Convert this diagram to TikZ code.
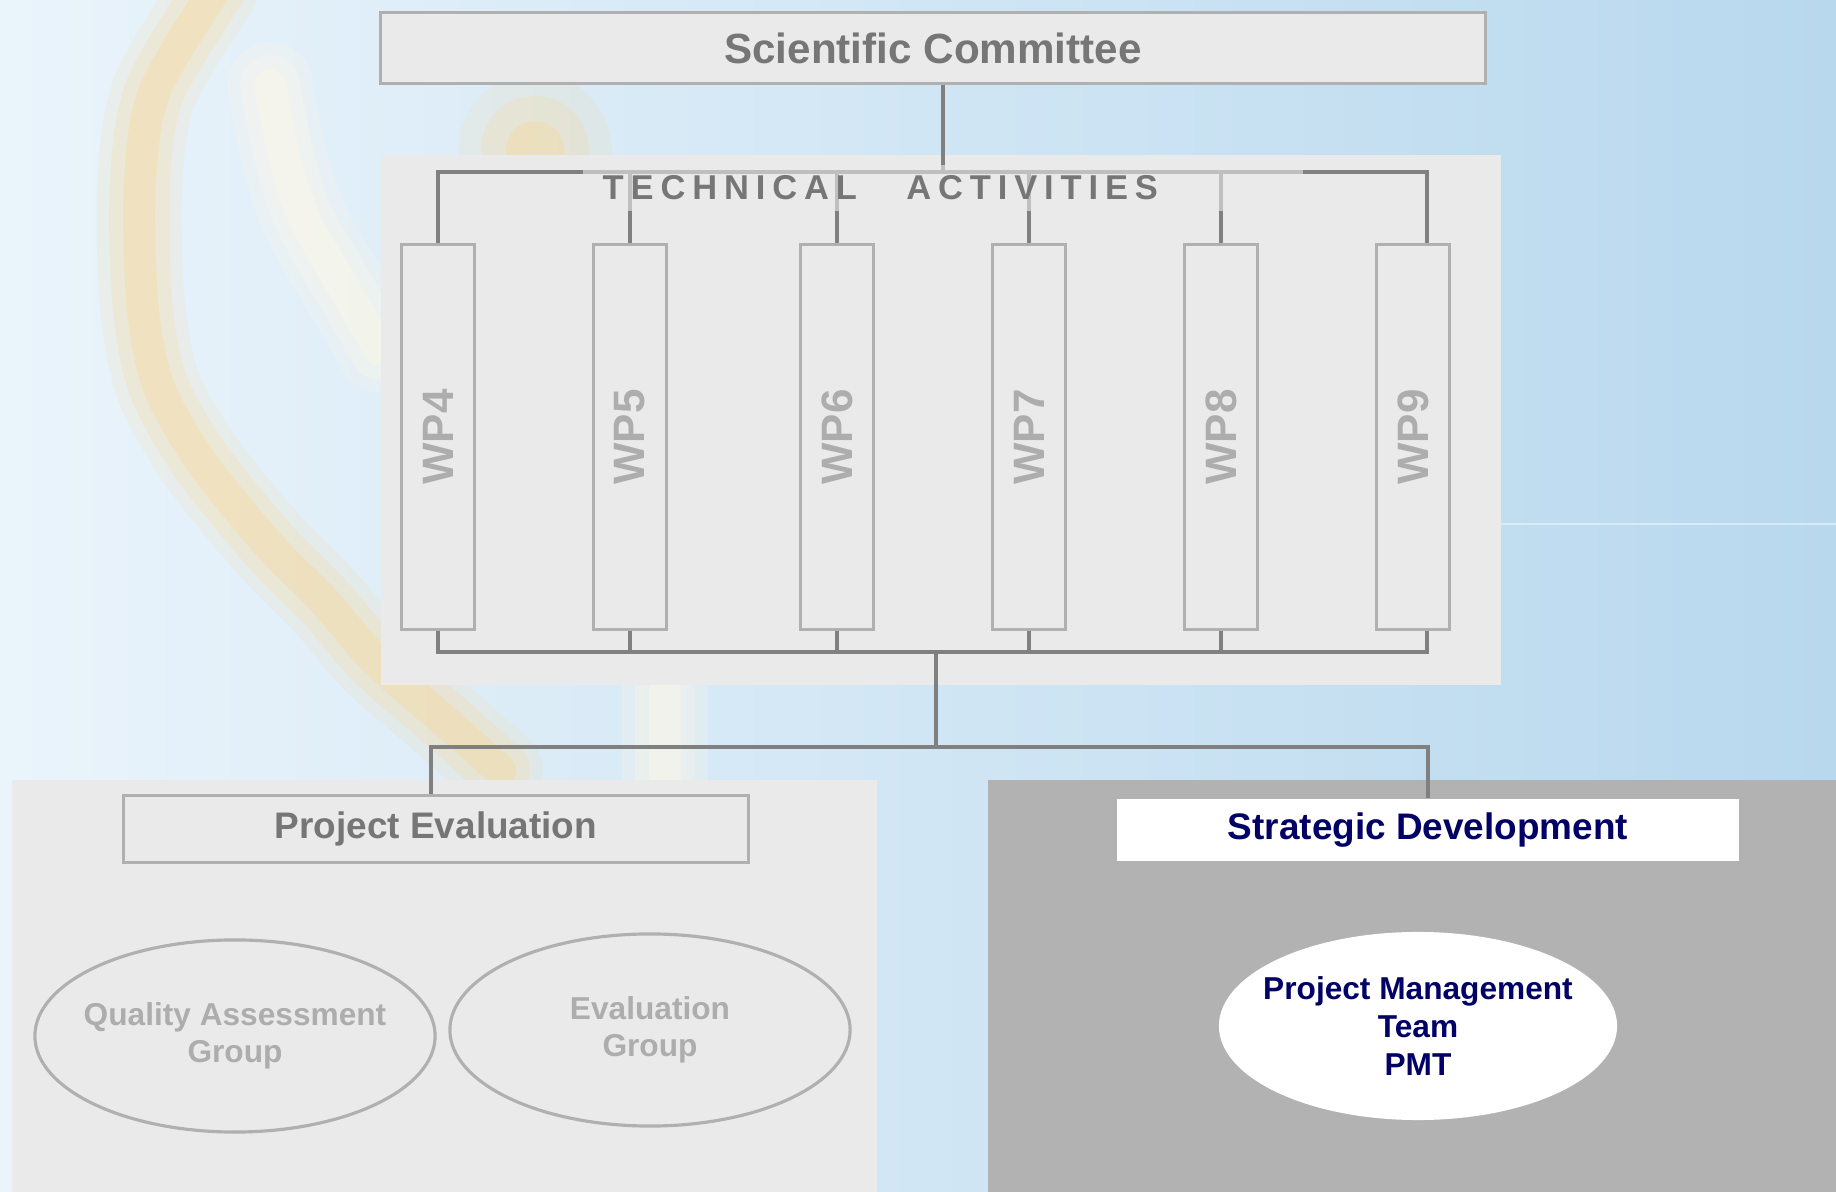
\documentclass[tikz,border=0pt]{standalone}
\usepackage{fontspec}
\setmainfont{Liberation Sans}
\newfontfamily\spacedfont[LetterSpace=20]{Liberation Sans}
\usepackage{tikz}
\usetikzlibrary{
	shapes.geometric
}

\definecolor{bgleft}{HTML}{EAF4FB}
\definecolor{bgmid}{HTML}{C6E1F3}
\definecolor{bgright}{HTML}{B8D8EE}
\definecolor{panel}{HTML}{EAEAEA}
\definecolor{darkpanel}{HTML}{B2B2B2}
\definecolor{boxline}{HTML}{B0B0B0}
\definecolor{linkgray}{HTML}{808080}
\definecolor{titlegray}{HTML}{767676}
\definecolor{palegray}{HTML}{ADADAD}
\definecolor{navy}{HTML}{000066}
\definecolor{swoosh}{HTML}{FFD27F}
\definecolor{cream}{HTML}{FFF8E6}

\tikzset{
	box/.style={draw=boxline, line width=0.9pt, fill=panel, inner sep=0pt},
	wpbox/.style={box, minimum width=0.73cm, minimum height=3.84cm},
	wplabel/.style={rotate=90, text=palegray, font=\fontsize{12.5}{14}\selectfont\bfseries},
	group/.style={ellipse, draw=boxline, line width=0.9pt, inner sep=0pt,
		minimum width=4cm, minimum height=1.92cm},
	grouplabel/.style={align=center, text=palegray, font=\fontsize{9}{10.7}\selectfont\bfseries},
	link/.style={draw=linkgray, line width=1pt}
}

\begin{document}
\begin{tikzpicture}[x=0.01cm, y=-0.01cm]
	\useasboundingbox (0,0) rectangle (1836,1192);
	\shade[left color=bgleft, middle color=bgmid, right color=bgright]
		(0,0) rectangle (1836,1192);
	\draw[white, opacity=0.45, line width=0.6pt] (1501,524) -- (1836,524);

	% background swoosh
	\foreach \w/\o in {0.85cm/0.12, 0.6cm/0.18, 0.32cm/0.26}{
		\draw[swoosh, line width=\w, opacity=\o, line cap=round]
			plot[smooth] coordinates {(215,-10) (155,90) (140,180) (142,300) (158,385)
				(200,460) (268,544) (325,602) (375,660) (440,717) (500,770)};
		\draw[cream, line width=\w, opacity=\o+0.1, line cap=round]
			plot[smooth] coordinates {(270,85) (285,160) (305,220) (345,290) (380,350)};
		\draw[cream, line width=\w, opacity=\o+0.1, line cap=round]
			(665,690) -- (665,780);
		\fill[swoosh, opacity=\o] (535,150) circle[radius=\w*0.9];
	}

	\node[box, minimum width=11.04cm, minimum height=0.71cm, text=titlegray,
		font=\fontsize{12}{14}\selectfont\bfseries] (sc) at (933,48) {Scientific Committee};

	\fill[panel] (381,155) rectangle (1501,685);

	\foreach \n/\x in {4/438, 5/630, 6/837, 7/1029, 8/1221, 9/1413}{
		\node[wpbox] (wp\n) at (\x,437) {};
		\node[wplabel] at (wp\n) {WP\n};
	}

	\coordinate (top) at (943,172);
	\draw[link] (top |- sc.south) -- (top);
	\draw[link] (wp4.north) -- (wp4.north |- top) -- ([xshift=0.14cm]wp9.north |- top)
		-- ([xshift=0.14cm]wp9.north);
	\foreach \n in {5,...,8}
		\draw[link] (wp\n.north) -- (wp\n.north |- top);

	\node[fill=panel, fill opacity=0.6, text opacity=1, anchor=north west,
		text width=6.8cm, inner xsep=0.2cm, inner ysep=0.11cm, align=left,
		text=titlegray, font=\spacedfont\fontsize{9.8}{11}\selectfont\bfseries]
		(tech) at (582,164) {TECHNICAL\hspace{1.1em} ACTIVITIES};

	\coordinate (hub) at (936,652);
	\draw[link] (wp4.south) -- (wp4.south |- hub) -- ([xshift=0.14cm]wp9.south |- hub)
		-- ([xshift=0.14cm]wp9.south);
	\foreach \n in {5,...,8}
		\draw[link] (wp\n.south) -- (wp\n.south |- hub);

	\fill[panel] (12,780) rectangle (877,1192);
	\fill[darkpanel] (988,780) rectangle (1836,1192);

	\node[box, minimum width=6.24cm, minimum height=0.67cm, text=titlegray,
		font=\fontsize{10.5}{12}\selectfont\bfseries] (pe) at (436,829) {Project Evaluation};
	\node[fill=white, minimum width=6.21cm, minimum height=0.62cm, inner sep=0pt, text=navy,
		font=\fontsize{10.5}{12}\selectfont\bfseries] (sd) at (1428,830) {Strategic Development};

	\coordinate (split) at (936,747);
	\draw[link] (hub) -- (split);
	\draw[link] ([xshift=-0.05cm]pe.north) |- (split) -| (sd.north);

	\node[group] (qag) at (235,1036) {};
	\node[grouplabel] at (qag) {Quality Assessment\\Group};
	\node[group] (evg) at (650,1030) {};
	\node[grouplabel] at (evg) {Evaluation\\Group};
	\node[group, draw=none, fill=white, minimum width=3.98cm, minimum height=1.88cm] (pmt) at (1418,1026) {};
	\node[grouplabel, text=navy] at (pmt) {Project Management\\Team\\PMT};
\end{tikzpicture}
\end{document}
